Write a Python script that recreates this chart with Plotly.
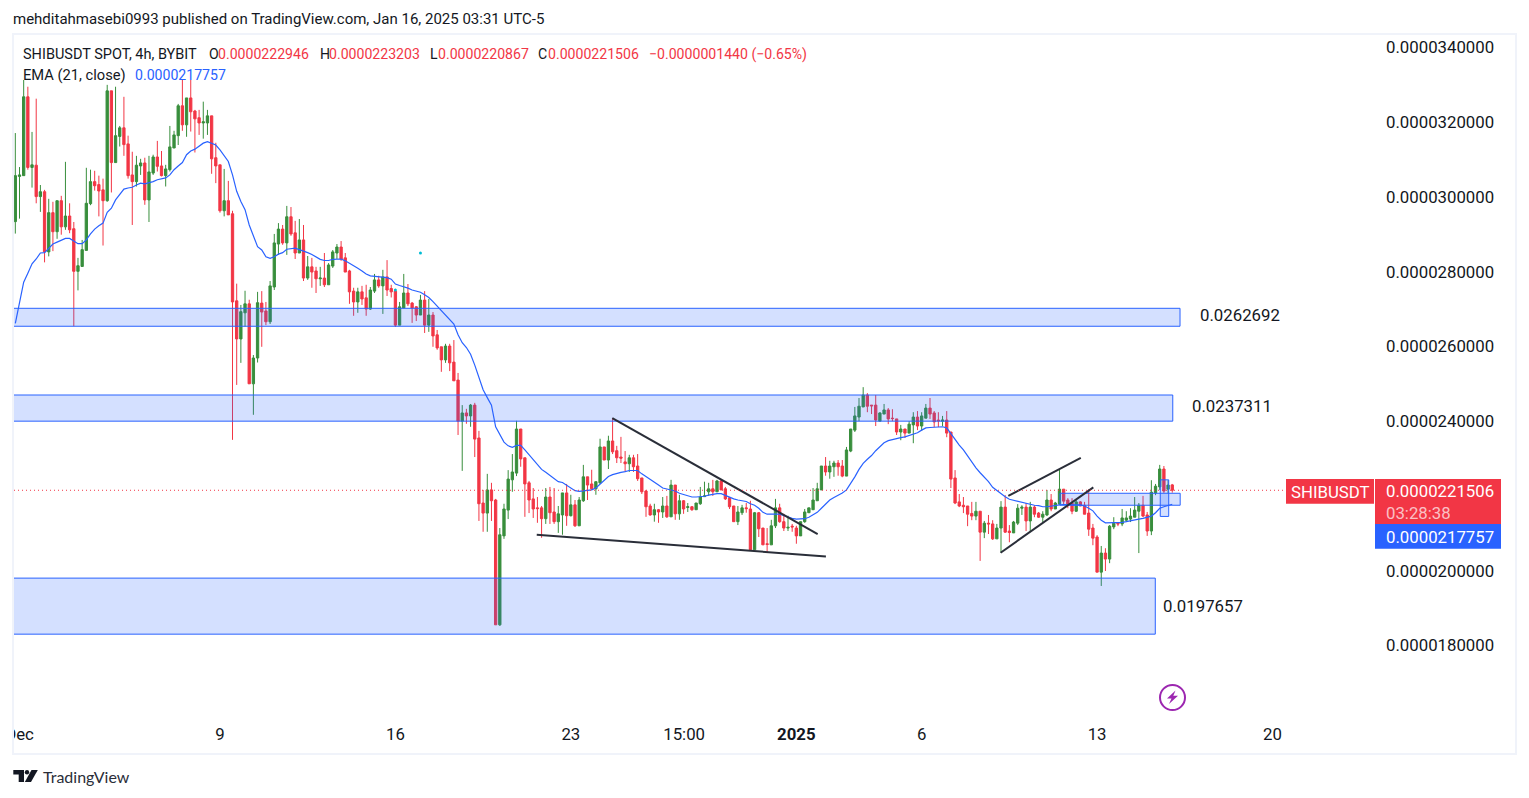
import numpy as np
import pandas as pd
import plotly.graph_objects as go

W, H = 1529, 798
UNIT = 1e-7
START = "2024-11-30 20:00"
M_L, M_R, M_T, M_B = 14, 154, 35, 82

opens_u = [293.4,305.5,305.7,326.8,307.9,308.5,300.1,301.4,285.3,295.8,290.7,299.0,292.0,294.9,291.5,280.1,281.4,285.7,298.2,304.1,303.3,301.9,299.0,328.4,309.2,316.2,318.5,314.2,305.9,304.1,308.3,309.1,299.2,306.4,310.7,308.3,305.7,307.3,313.1,316.4,324.4,319.3,326.5,323.0,321.2,319.8,319.8,321.7,310.5,308.6,296.3,299.0,295.5,272.2,262.0,269.0,271.4,250.0,256.9,
271.6,269.5,266.6,275.9,287.4,291.4,287.7,294.7,290.4,285.0,288.5,278.3,281.3,280.2,278.1,278.3,276.5,281.5,285.0,286.6,283.7,280.2,274.8,271.9,274.6,273.0,270.0,274.8,277.8,276.2,278.6,275.5,274.8,265.7,270.3,274.3,271.6,270.6,268.4,272.4,265.7,268.4,263.1,259.9,256.4,260.1,255.8,251.0,240.0,242.2,241.4,244.3,235.5,218.1,215.4,221.6,218.9,185.5,209.3,216.2,224.3,226.1,
237.9,230.2,223.5,219.2,216.8,216.8,213.9,219.7,215.7,213.1,214.9,220.8,214.7,217.6,212.0,218.7,225.1,223.2,221.9,223.5,233.1,229.6,234.7,232.1,230.4,229.1,228.6,230.2,228.0,224.8,221.3,217.3,214.9,216.3,215.7,217.3,214.4,222.9,215.2,218.7,216.9,217.1,216.3,217.9,219.8,221.1,221.9,221.1,224.0,221.9,219.5,217.3,213.1,215.5,216.8,216.5,205.6,215.5,211.4,207.2,206.9,212.0,216.8,213.1,211.4,211.9,211.4,209.3,213.1,215.5,216.3,218.7,221.6,228.0,226.4,227.8,228.8,
228.0,225.3,232.0,237.6,241.1,243.8,247.0,244.3,244.3,240.0,241.9,243.0,240.8,240.6,237.1,237.9,236.8,239.0,241.1,238.7,240.8,243.5,242.2,240.3,240.0,240.3,237.1,224.8,218.4,217.5,217.3,215.3,214.6,215.9,210.3,212.7,212.5,208.5,211.4,217.0,210.6,210.1,212.7,216.7,217.0,213.3,217.0,215.4,214.3,214.9,218.9,216.5,217.8,221.8,218.9,218.1,215.9,218.4,217.5,215.4,211.4,209.0,199.6,204.7,203.1,211.7,212.7,212.5,213.5,213.8,214.3,215.9,217.5,214.9,210.6,220.8,222.4,227.2,221.8,222.946]
highs_u = [317.1,308.0,331.3,329.5,317.4,326.3,303.2,301.9,299.5,298.7,299.0,300.3,309.4,298.3,293.3,283.7,288.5,307.8,307.3,307.0,305.7,304.9,330.0,328.4,329.5,319.0,326.8,316.4,312.1,311.0,310.2,310.5,311.0,311.3,315.0,312.3,308.6,319.0,317.7,324.9,331.3,326.5,331.3,323.3,323.3,325.5,323.3,321.7,314.5,308.6,307.5,304.3,296.3,276.8,271.1,274.9,272.5,257.7,274.6,
274.8,271.9,277.5,290.1,293.0,292.5,297.6,297.3,293.6,294.1,292.5,284.2,283.7,281.3,281.3,285.0,282.3,285.8,287.4,288.2,285.0,280.5,275.7,275.7,276.2,276.5,275.9,279.4,278.9,280.5,283.1,276.5,275.4,271.9,279.4,276.7,271.9,270.8,273.8,274.8,272.7,269.2,264.4,259.9,260.7,260.7,261.7,252.9,244.3,243.3,244.6,244.9,237.4,221.6,225.9,223.5,219.2,211.4,217.9,226.9,231.2,240.1,
237.9,230.2,224.0,222.1,219.7,217.3,222.1,222.4,222.1,217.3,220.8,223.2,220.3,218.9,219.7,228.3,225.1,227.0,223.8,235.3,233.1,236.1,240.8,233.4,235.8,232.0,231.0,231.0,231.2,224.8,221.6,217.9,217.9,216.5,219.7,220.0,224.3,222.9,220.3,218.9,218.1,217.3,218.1,222.4,223.8,223.5,224.3,224.3,224.3,222.4,219.7,217.3,217.3,217.6,218.1,218.7,215.7,215.7,211.4,211.4,213.6,219.2,217.9,215.2,214.7,212.5,212.0,213.1,216.5,216.8,222.1,223.5,228.0,230.4,229.4,229.4,229.6,
229.6,233.1,237.9,243.8,246.2,249.1,247.5,244.3,247.0,242.4,244.6,243.5,243.2,240.6,239.0,237.9,240.0,242.4,242.7,242.4,244.6,246.2,242.7,242.4,241.4,242.7,237.1,226.9,220.5,219.7,217.3,218.4,218.4,215.9,213.3,214.9,213.5,212.5,218.6,220.2,212.2,213.3,217.8,217.5,218.1,218.4,217.5,215.7,215.9,221.6,220.5,218.4,227.2,221.8,219.4,219.4,218.9,218.6,218.4,221.8,212.5,209.5,206.6,206.0,212.2,214.3,213.0,216.5,215.9,216.7,219.7,218.1,220.0,215.7,224.2,223.2,228.3,228.0,224.2,223.203]
lows_u = [290.2,294.2,305.7,307.3,302.5,298.3,296.0,282.5,284.1,285.5,288.8,289.9,291.2,290.3,265.4,275.0,281.4,285.7,297.8,301.7,294.8,287.0,298.7,301.2,309.2,313.5,311.0,304.9,292.5,302.8,305.9,297.9,293.3,305.9,306.8,305.5,302.8,306.8,313.1,313.9,317.7,316.1,317.5,311.9,316.6,315.6,316.6,306.2,303.7,295.8,294.8,295.2,235.0,249.7,255.6,265.3,250.0,241.7,255.7,
259.9,265.7,266.0,275.1,284.5,287.2,284.5,289.6,283.4,285.0,277.5,277.8,275.7,274.3,276.2,275.9,276.5,281.0,283.4,282.9,279.9,271.4,268.2,269.0,271.1,268.2,269.8,274.3,275.7,268.7,273.5,273.1,265.2,265.7,270.3,270.8,266.3,266.8,268.4,263.6,263.9,259.9,259.1,253.2,255.6,253.4,250.8,236.3,226.7,239.3,238.5,230.4,213.3,210.4,210.4,213.3,185.5,185.2,208.5,213.8,221.1,225.3,
227.8,214.4,215.4,214.1,212.8,208.8,212.5,212.5,212.5,210.1,209.6,212.0,214.5,211.7,212.0,218.4,218.9,221.6,220.3,223.2,229.6,227.2,231.2,228.8,228.8,226.4,226.4,226.4,224.0,220.5,214.4,214.7,213.1,212.8,214.1,214.1,214.4,213.6,213.6,215.2,215.7,216.0,216.3,217.6,219.8,220.0,220.0,221.1,221.6,218.9,216.5,213.1,212.2,214.9,215.5,205.6,205.6,209.0,206.9,205.0,206.9,211.4,212.8,210.6,210.6,210.4,207.2,209.3,212.8,215.5,216.3,218.7,221.6,225.4,224.6,225.1,225.4,
225.0,225.3,231.7,237.1,240.0,243.8,242.4,241.9,238.7,240.0,241.9,239.2,240.0,236.3,234.9,235.5,236.8,234.1,237.6,237.4,240.8,240.6,238.4,238.4,238.7,235.7,222.1,217.8,217.0,215.4,211.9,213.5,213.5,202.6,208.7,209.8,208.2,208.5,204.8,210.1,207.6,210.1,212.2,214.9,210.6,210.3,214.3,214.1,213.0,214.6,215.9,216.5,217.5,217.8,216.7,215.1,215.7,217.3,215.1,209.3,206.8,199.6,195.9,199.9,202.0,211.1,211.9,211.9,213.0,213.0,214.3,204.7,214.3,209.3,209.5,220.2,221.6,220.8,220.7,220.867]
closes_u = [305.7,305.9,326.8,307.9,308.6,300.1,301.4,285.3,295.8,290.7,299.0,292.0,294.9,291.2,280.1,281.6,285.9,298.3,304.1,303.0,301.6,299.0,328.4,309.2,316.4,318.5,314.0,305.7,304.1,308.5,309.1,299.2,306.7,310.7,308.2,305.7,307.5,313.4,316.6,324.4,319.3,326.5,322.8,320.9,319.8,320.1,321.7,310.2,308.3,296.3,299.0,295.2,271.9,262.0,269.3,271.4,250.0,256.9,271.7,
269.2,266.6,276.2,287.7,291.4,287.7,294.7,290.1,285.0,288.5,278.3,281.3,279.9,278.1,278.3,276.5,281.8,285.3,286.6,283.4,279.9,274.6,271.9,274.6,272.7,270.0,275.1,277.8,276.2,278.6,275.1,274.6,265.7,270.6,274.3,271.4,270.3,268.4,272.4,265.7,268.4,262.8,259.6,256.4,260.1,255.6,250.8,240.0,242.2,241.4,244.3,235.2,217.9,215.4,221.6,218.7,185.5,209.6,216.5,224.5,226.4,237.9,
229.9,223.2,218.9,216.5,216.6,213.9,219.7,215.5,213.1,215.2,220.8,214.7,217.6,212.0,218.9,225.1,222.9,221.9,223.8,233.1,229.6,234.7,231.8,230.2,230.1,228.6,230.2,227.8,224.6,221.1,217.1,214.9,216.3,215.7,217.3,214.4,222.9,215.2,218.7,216.5,217.1,216.3,218.1,219.7,220.0,221.9,221.1,224.0,221.6,219.2,217.1,213.1,215.7,216.8,216.6,205.6,215.5,211.2,206.9,207.0,212.0,216.8,213.1,211.4,211.6,211.7,209.3,213.1,215.7,216.8,218.9,221.9,228.0,226.4,228.0,228.8,227.8,
225.3,232.3,237.9,241.4,244.0,247.0,244.0,244.1,240.3,242.2,243.0,240.6,240.7,237.1,237.9,236.8,239.2,241.1,238.7,241.4,243.5,241.9,239.8,240.1,240.3,236.8,224.5,218.1,217.3,217.1,215.1,214.6,215.9,210.3,212.7,212.5,208.5,211.4,217.0,210.3,210.2,213.0,216.7,217.0,213.3,217.0,215.1,214.3,215.1,218.9,216.5,218.1,221.8,218.6,217.8,215.9,218.4,217.3,215.1,211.1,208.7,199.6,204.7,203.1,211.9,212.7,212.5,214.1,214.1,214.6,216.2,217.5,214.6,210.6,221.0,222.6,227.2,221.3,222.9,221.506]
ema_u = [266.2,271.9,277.2,279.6,282.1,283.4,285.0,285.1,286.3,287.4,287.9,288.3,288.9,288.9,288.1,287.5,287.5,288.5,290.1,291.4,292.3,293.0,295.9,297.0,299.2,300.8,302.1,302.4,302.6,303.2,303.7,303.5,303.7,304.1,304.6,304.8,305.1,305.9,307.3,308.3,309.2,311.3,312.3,312.8,313.5,314.4,314.8,314.4,313.9,312.6,311.0,309.5,305.9,301.5,298.8,296.6,292.5,289.7,286.7,
285.8,284.0,283.6,284.0,284.7,285.1,286.0,286.2,286.3,285.9,285.6,285.1,284.6,284.0,283.3,283.0,283.0,283.3,283.4,283.4,282.9,282.3,281.6,280.9,280.2,279.4,278.9,278.8,278.7,278.6,278.4,278.0,276.7,276.3,276.0,275.6,275.1,274.8,274.5,273.8,273.1,272.0,270.8,269.8,268.4,267.3,266.0,263.1,261.0,259.7,257.9,255.0,251.9,248.4,246.3,244.3,238.5,236.3,234.4,233.4,233.0,233.5,
233.5,232.3,231.0,229.6,228.3,227.1,226.3,225.5,224.7,223.8,223.6,222.9,222.1,221.4,221.2,221.3,221.4,221.6,222.1,223.2,224.3,225.2,225.7,226.1,226.3,226.5,226.8,226.8,226.8,225.9,225.2,224.3,223.6,222.9,222.1,221.8,221.6,221.3,220.7,220.3,219.9,219.7,219.7,219.8,219.9,220.2,220.5,220.6,220.6,220.1,219.6,219.2,218.9,218.7,218.5,217.9,217.5,216.7,215.6,215.1,215.0,215.1,215.1,214.7,214.3,214.0,213.8,213.8,213.9,214.3,214.9,215.6,216.7,217.8,218.9,219.6,220.1,
220.8,221.6,223.2,225.1,227.1,228.7,229.8,230.8,232.1,233.2,234.2,234.8,235.1,235.4,235.6,235.8,236.2,236.5,236.9,237.6,238.2,238.3,238.4,238.5,238.5,238.2,236.7,234.9,233.6,232.3,230.7,228.9,227.5,226.2,225.0,223.8,222.3,221.4,220.7,219.8,219.1,218.8,218.5,218.3,218.0,217.8,217.5,217.4,217.1,217.1,217.3,217.5,217.6,217.7,217.6,217.5,217.6,217.6,217.3,216.7,216.0,214.6,213.5,212.8,212.8,212.8,212.8,212.9,213.1,213.4,213.6,213.8,214.0,214.3,214.6,215.5,216.7,217.1,217.5,217.757]

y_ticks_u = [180,200,240,260,280,300,320,340]
x_tick_vals = ["2024-12-01","2024-12-09","2024-12-16","2024-12-23","2024-12-27 12:30","2025-01-01","2025-01-06","2025-01-13","2025-01-20"]
x_tick_text = ["Dec","9","16","23","15:00","<b>2025</b>","6","13","20"]
X_RANGE = ["2024-11-30 18:44","2025-01-24 02:10"]
Y_RANGE_U = [161.1,343.34]

zone_left = ["2024-11-30 12:00","2024-11-30 12:00","2024-11-30 12:00","2025-01-11 12:30","2025-01-15 12:30"]
zone_right = ["2025-01-16 07:26","2025-01-16 00:30","2025-01-15 07:45","2025-01-16 07:35","2025-01-15 20:36"]
zone_low_u = [265.4,240.0,183.0,217.5,214.5]
zone_high_u = [270.2,247.0,198.0,220.7,224.3]
line_x0 = ["2024-12-24 15:43","2024-12-21 15:22","2025-01-09 11:00","2025-01-09 03:36"]
line_x1 = ["2025-01-01 20:24","2025-01-02 04:19","2025-01-12 08:24","2025-01-12 20:24"]
line_y0_u = [240.8,209.6,220.0,204.8]
line_y1_u = [209.8,203.8,230.2,222.3]
level_text = ["0.0262692","0.0237311","0.0197657"]
level_x = ["2025-01-17 00:43","2025-01-16 17:05","2025-01-15 13:12"]
level_y_u = [268.4,244.1,190.6]
dot_bar = [97,91]
dot_u = [285.0,275.1]

RED, BLUE, GREEN, INK = "#f23645", "#2962ff", "#388e3c", "#131722"
FONT = "Roboto"
AXF = 16.8

u = lambda a: np.array(a, dtype=float) * UNIT
dates = pd.date_range(START, periods=len(closes_u), freq="4h")

fig = go.Figure()
fig.add_trace(go.Candlestick(
    x=dates, open=u(opens_u), high=u(highs_u), low=u(lows_u), close=u(closes_u),
    increasing=dict(line=dict(color=GREEN, width=1), fillcolor=GREEN),
    decreasing=dict(line=dict(color=RED, width=1), fillcolor=RED),
    whiskerwidth=0, hoverinfo="skip", showlegend=False))
fig.add_trace(go.Scatter(x=dates, y=u(ema_u), mode="lines",
    line=dict(color=BLUE, width=1.2), hoverinfo="skip", showlegend=False))
fig.add_trace(go.Scatter(x=dates[dot_bar], y=u(dot_u), mode="markers",
    marker=dict(color="#00bcd4", size=3), hoverinfo="skip", showlegend=False))

PW, PH = W - M_L - M_R, H - M_T - M_B
px = lambda v: (v - M_L) / PW
py = lambda v: 1 - (v - M_T) / PH
shapes, ann = [], []

def rect(x0, y0, x1, y1, fill, line=None, lw=0):
    shapes.append(dict(type="rect", xref="paper", yref="paper", x0=px(x0), x1=px(x1), y0=py(y0), y1=py(y1),
                       fillcolor=fill, line=dict(color=line or fill, width=lw), layer="above"))

def text(x, y, s, color=INK, size=14.1, anchor="left", family=FONT):
    ann.append(dict(xref="paper", yref="paper", x=px(x), y=py(y), text=s, showarrow=False, xanchor=anchor,
                    yanchor="middle", font=dict(family=family, size=size, color=color), borderpad=0, borderwidth=0))

for a, b, lo, hi in zip(zone_left, zone_right, zone_low_u, zone_high_u):
    shapes.append(dict(type="rect", xref="x", yref="y", x0=a, x1=b, y0=lo*UNIT, y1=hi*UNIT,
                       fillcolor="rgba(41,98,255,0.2)", line=dict(color=BLUE, width=1), layer="above"))
for a, b, c, d in zip(line_x0, line_x1, line_y0_u, line_y1_u):
    shapes.append(dict(type="line", xref="x", yref="y", x0=a, x1=b, y0=c*UNIT, y1=d*UNIT,
                       line=dict(color="#2a2e39", width=2), layer="above"))
shapes.append(dict(type="line", xref="paper", yref="y", x0=px(14), x1=px(1286),
                   y0=closes_u[-1]*UNIT, y1=closes_u[-1]*UNIT,
                   line=dict(color=RED, width=1, dash="1px,3px"), layer="above"))
for s, a, b in zip(level_text, level_x, level_y_u):
    ann.append(dict(xref="x", yref="y", x=a, y=b*UNIT, text=s, showarrow=False, xanchor="left", yanchor="middle",
                    font=dict(family=FONT, size=AXF, color=INK)))

rect(0, 720, 13, 750, "#ffffff")
shapes.append(dict(type="rect", xref="paper", yref="paper", x0=px(13), x1=px(1516), y0=py(34), y1=py(754),
                   line=dict(color="#f0f3fa", width=2), fillcolor="rgba(0,0,0,0)", layer="above"))

rect(1286, 479, 1374, 503.7, RED)
rect(1375, 479, 1501, 524, RED)
rect(1375, 524, 1501, 548.7, BLUE)
text(1330, 491.5, "SHIBUSDT", "#ffffff", AXF, "center")
text(1386, 491, "0.0000221506", "#ffffff", AXF)
text(1386, 512.5, "03:28:38", "rgba(255,255,255,0.7)", AXF)
text(1386, 536.5, "0.0000217757", "#ffffff", AXF)

text(13, 19, "mehditahmasebi0993 published on TradingView.com, Jan 16, 2025 03:31 UTC-5", INK, 15)
text(23, 54, "SHIBUSDT SPOT, 4h, BYBIT", INK, 14.5)
for x, s, c in [(209,"O",INK),(218,"0.0000222946",RED),(319.6,"H",INK),(328.6,"0.0000223203",RED),
                (429.6,"L",INK),(438,"0.0000220867",RED),(538,"C",INK),(547.6,"0.0000221506",RED),
                (648.7,"−0.0000001440 (−0.65%)",RED)]:
    text(x, 54, s, c)
text(23, 75, "EMA (21, close)", INK, 14.7)
text(134.5, 75, "0.0000217757", BLUE)

def path(points, fill):
    d = "M" + " L".join(f"{px(a):.5f},{py(b):.5f}" for a, b in points) + " Z"
    shapes.append(dict(type="path", xref="paper", yref="paper", path=d, fillcolor=fill, line=dict(width=0), layer="above"))
path([(13.3,770),(24,770),(24,782),(18.7,782),(18.7,774.6),(13.3,774.6)], INK)
shapes.append(dict(type="circle", xref="paper", yref="paper", x0=px(24.8), x1=px(29.2), y0=py(770), y1=py(774.4),
                   fillcolor=INK, line=dict(width=0), layer="above"))
path([(31.5,770),(37.8,770),(31,782),(24.8,782)], INK)
text(43, 776, "TradingView", "#2a2e39", 16, family="Lato")
shapes.append(dict(type="circle", xref="paper", yref="paper", x0=px(1160), x1=px(1185), y0=py(685), y1=py(710),
                   fillcolor="#ffffff", line=dict(color="#9c27b0", width=2), layer="above"))
path([(1175.5,690.5),(1167,698.5),(1171.5,698.5),(1169,704),(1178,695.8),(1173.3,695.8)], "#9c27b0")

fig.update_layout(
    width=W, height=H, autosize=False, paper_bgcolor="#ffffff", plot_bgcolor="#ffffff",
    margin=dict(l=M_L, r=M_R, t=M_T, b=M_B), showlegend=False, boxgap=0.45, boxgroupgap=0,
    shapes=shapes, annotations=ann, hovermode=False, dragmode=False,
    xaxis=dict(type="date", range=X_RANGE, rangeslider=dict(visible=False), showgrid=False, zeroline=False,
               showline=False, ticks="", tickmode="array", tickvals=x_tick_vals, ticktext=x_tick_text, automargin=False,
               tickfont=dict(family=FONT, size=AXF, color=INK), ticklabelstandoff=6),
    yaxis=dict(side="right", range=[v*UNIT for v in Y_RANGE_U], showgrid=False, zeroline=False, showline=False, automargin=False,
               ticks="", tickmode="array", tickvals=[v*UNIT for v in y_ticks_u],
               ticktext=[f"{v*UNIT:.10f}" for v in y_ticks_u],
               tickfont=dict(family=FONT, size=AXF, color=INK), ticklabelstandoff=10),
)
fig.write_html("out.html", config=dict(displayModeBar=False, responsive=False),
               post_script="document.body.style.margin='0';document.documentElement.style.overflow='hidden';")
